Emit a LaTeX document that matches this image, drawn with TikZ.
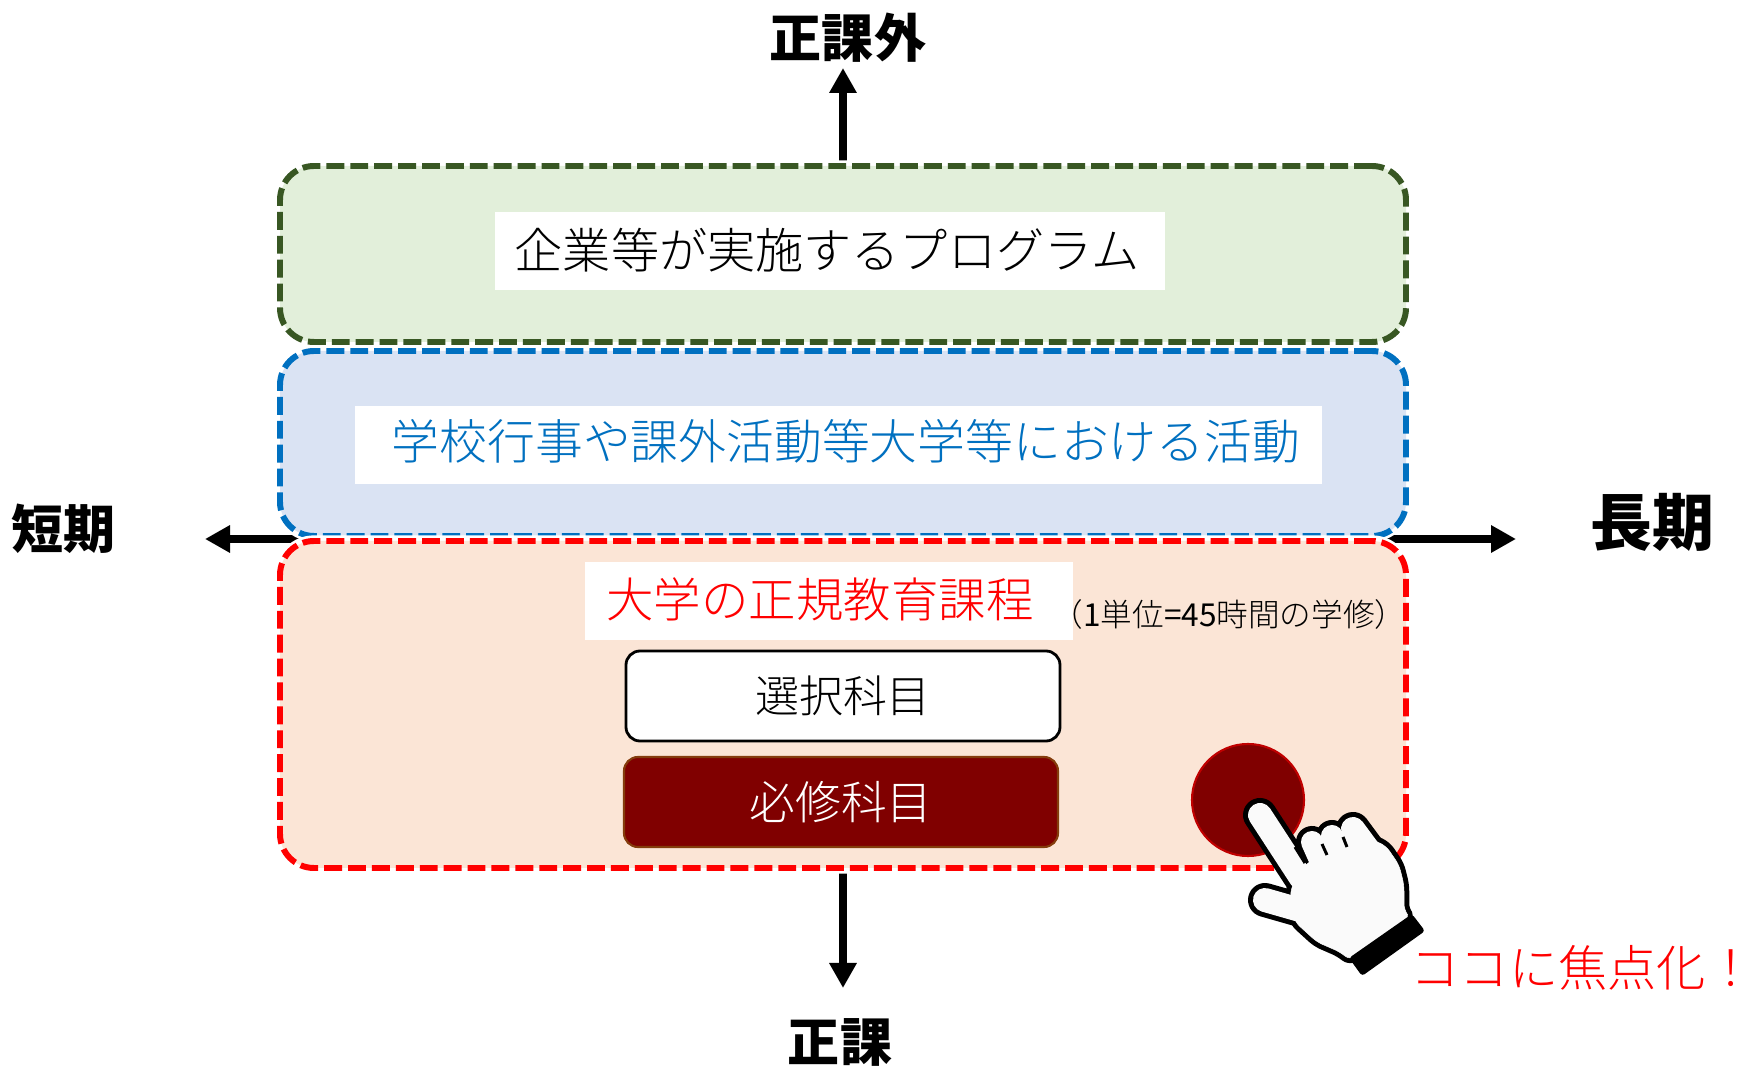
\documentclass[tikz,border=0pt]{standalone}
\usepackage{fontspec}
\setmainfont{Noto Sans CJK JP}
\newfontfamily\jplight{Noto Sans CJK JP Light}
\usetikzlibrary{arrows.meta}
\definecolor{greenfill}{RGB}{226,239,218}
\definecolor{greenline}{RGB}{56,87,35}
\definecolor{bluefill}{RGB}{218,227,243}
\definecolor{blueline}{RGB}{0,112,192}
\definecolor{redfill}{RGB}{251,229,214}
\definecolor{darkred}{RGB}{128,0,0}
\definecolor{ringred}{RGB}{192,0,0}
\definecolor{brownline}{RGB}{132,60,12}
\definecolor{handwhite}{RGB}{250,250,250}

\begin{document}
\begin{tikzpicture}[x=1cm,y=-1cm,
	every node/.style={inner sep=0pt,outer sep=0pt},
	zone/.style={rounded corners=0.34cm,minimum width=11.26cm,line width=1.7pt,dash pattern=on 5.1pt off 1.7pt,preaction={draw=white,solid,line width=3.2pt}},
	titlebox/.style={fill=white,minimum height=0.78cm},
	subject/.style={rounded corners=0.14cm,minimum width=4.34cm,minimum height=0.9cm},
	axisline/.style={line width=2pt,{Triangle[length=0.25cm,width=0.26cm]}-{Triangle[length=0.25cm,width=0.26cm]}},
	axislabel/.style={font=\bfseries\fontsize{14.8}{16}\selectfont}]
		\useasboundingbox (0,0) rectangle (17.57,10.66);
		% axes
		\coordinate (west) at (2.05,5.39);
		\coordinate (east) at (15.16,5.39);
		\coordinate (north) at (8.43,0.68);
		\coordinate (south) at (8.43,9.88);
		\draw[axisline] (west) -- (east);
		\draw[axisline] (south) -- (north);
		\node[axislabel] (nonregular) at (8.48,0.38) {正課外};
		\node[axislabel] (regularlbl) at (8.40,10.42) {正課};
		\node[axislabel] (short) at (0.64,5.29) {短期};
		\node[axislabel,font=\bfseries\fontsize{17.6}{19}\selectfont] (long) at (16.52,5.22) {長期};
		% three areas
		\node[zone,draw=greenline,fill=greenfill,minimum height=1.76cm] (company) at (8.43,2.54) {};
		\node[zone,draw=blueline,fill=bluefill,minimum height=1.85cm] (campus) at (8.43,4.435) {};
		\node[zone,draw=red,fill=redfill,minimum height=3.27cm] (curriculum) at (8.43,7.045) {};
		\node[titlebox,minimum width=6.70cm] (progbox) at (8.30,2.515) {};
		\node[font=\jplight\fontsize{13.7}{15}\selectfont] (prog) at (8.27,2.50) {企業等が実施するプログラム};
		\node[titlebox,minimum width=9.67cm] (activitybox) at (8.385,4.45) {};
		\node[text=blueline,font=\jplight\fontsize{13.6}{15}\selectfont] (activity) at (8.46,4.41) {学校行事や課外活動等大学等における活動};
		\node[titlebox,minimum width=4.88cm] (coursebox) at (8.29,6.015) {};
		\node[text=red,font=\jplight\fontsize{13.5}{15}\selectfont] (course) at (8.20,5.99) {大学の正規教育課程};
		\node[font=\fontsize{9}{10}\selectfont] (unit) at (12.29,6.14) {{\jplight （}1{\jplight 単位}=45{\jplight 時間の学修）}};
		\node[subject,draw=black,fill=white,line width=0.8pt,font=\jplight\fontsize{12.5}{14}\selectfont] (elective) at (8.43,6.96) {選択科目};
		\node[subject,draw=brownline,fill=darkred,text=white,line width=0.6pt,font=\jplight\fontsize{13}{14}\selectfont] (required) at (8.41,8.02) {必修科目};
		\node[circle,minimum size=1.12cm,fill=darkred,draw=ringred,line width=0.6pt] (focus) at (12.48,8.00) {};
		% pointing hand
		\begin{scope}[line join=round]
			\foreach \col/\ex in {black/0.1,handwhite/0}{
				\filldraw[fill=\col,draw=\col,line width=\ex cm+0.005cm,rounded corners=0.06cm] (12.90,8.92) -- (13.00,8.70) -- (13.30,8.45) -- (13.62,8.35) -- (13.86,8.46) -- (13.99,8.65) -- (14.04,8.85) -- (14.04,9.10) -- (14.10,9.18) -- (13.50,9.60) -- (13.40,9.52) -- (13.17,9.42) -- (12.95,9.22) -- cycle;
				\foreach \ax/\ay/\bx/\by/\w in {12.60/8.15/13.01/8.78/0.24, 13.12/8.42/13.20/8.60/0.22, 13.32/8.36/13.40/8.55/0.22, 13.53/8.29/13.70/8.52/0.24, 12.65/9.00/13.00/9.10/0.24}
					\draw[\col,line width=\w cm+\ex cm,line cap=round] (\ax,\ay) -- (\bx,\by);
			}
			\draw[line width=0.03cm] (12.95,8.47) -- (13.05,8.63);
			\draw[line width=0.03cm] (13.22,8.44) -- (13.27,8.55);
			\draw[line width=0.03cm] (13.43,8.37) -- (13.47,8.47);
			\fill[rounded corners=0.03cm] (13.49,9.58) -- (14.12,9.14) -- (14.25,9.31) -- (13.62,9.76) -- cycle;
		\end{scope}
		\node[text=red,font=\jplight\fontsize{14}{16}\selectfont] (note) at (15.83,9.68) {ココに焦点化！};
	\end{tikzpicture}
\end{document}
